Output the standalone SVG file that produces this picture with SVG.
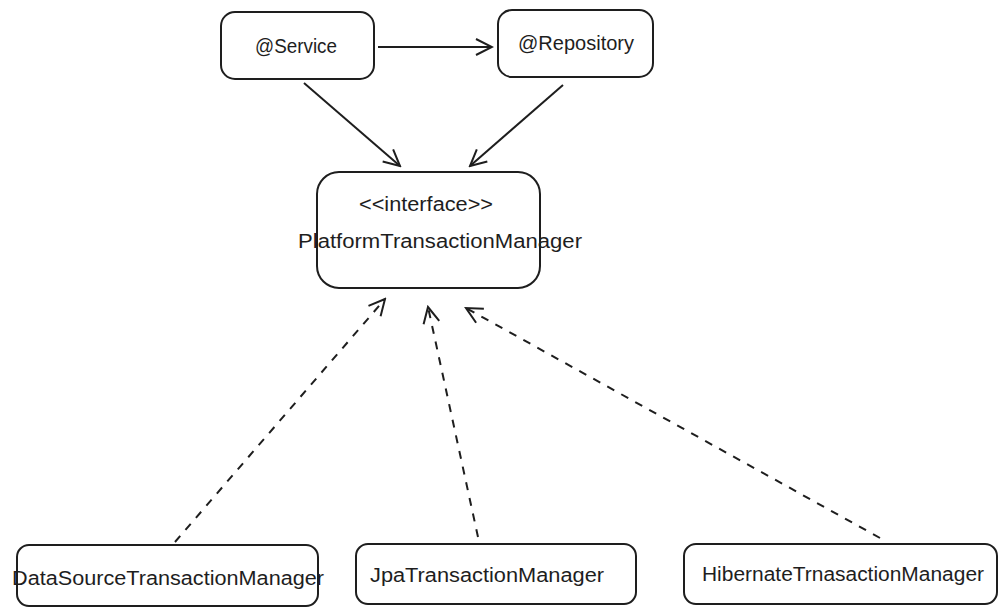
<svg xmlns="http://www.w3.org/2000/svg" width="1007" height="615" viewBox="0 0 1007 615">
<style>
.box{fill:#fff;stroke:#1e1e1e;stroke-width:2;}
.t{font-family:"Liberation Sans",Arial,sans-serif;font-size:20px;fill:#1e1e1e;text-anchor:middle;dominant-baseline:central;}
.c{fill:none;stroke:#1e1e1e;stroke-width:2;}
.d{stroke-dasharray:8 8;}
</style>
<defs>
<marker id="ah" viewBox="0 0 20 20" refX="18" refY="10" markerWidth="20" markerHeight="20" markerUnits="userSpaceOnUse" orient="auto">
<path d="M2,2 L18,10 L2,18" fill="none" stroke="#1e1e1e" stroke-width="2"/>
</marker>
</defs>
<rect width="1007" height="615" fill="#fff"/>
<g id="connectors">
<line class="c" x1="378" y1="47" x2="492" y2="47" marker-end="url(#ah)"/>
<line class="c" x1="304" y1="83" x2="400" y2="166" marker-end="url(#ah)"/>
<line class="c" x1="563" y1="85" x2="470" y2="166" marker-end="url(#ah)"/>
<line class="c d" x1="175" y1="542" x2="385" y2="299" marker-end="url(#ah)"/>
<line class="c d" x1="478" y1="537" x2="428" y2="307" marker-end="url(#ah)"/>
<line class="c d" x1="880" y1="538" x2="466" y2="308" marker-end="url(#ah)"/>
</g>
<g id="service">
<rect class="box" x="221" y="12" width="153" height="67" rx="14"/>
<text class="t" x="296" y="46" textLength="82" lengthAdjust="spacingAndGlyphs">@Service</text>
</g>
<g id="repository">
<rect class="box" x="498" y="10" width="155" height="67" rx="14"/>
<text class="t" x="576" y="43" textLength="116" lengthAdjust="spacingAndGlyphs">@Repository</text>
</g>
<g id="ptm">
<rect class="box" x="317" y="172" width="223" height="116" rx="22"/>
<text class="t" x="426" y="204" textLength="134" lengthAdjust="spacingAndGlyphs">&lt;&lt;interface&gt;&gt;</text>
<text class="t" x="440" y="241" textLength="284" lengthAdjust="spacingAndGlyphs">PlatformTransactionManager</text>
</g>
<g id="datasource">
<rect class="box" x="17" y="545" width="301" height="61" rx="12"/>
<text class="t" x="168" y="578" textLength="312" lengthAdjust="spacingAndGlyphs">DataSourceTransactionManager</text>
</g>
<g id="jpa">
<rect class="box" x="356" y="544" width="280" height="60" rx="12"/>
<text class="t" x="487" y="575" textLength="234" lengthAdjust="spacingAndGlyphs">JpaTransactionManager</text>
</g>
<g id="hibernate">
<rect class="box" x="684" y="544" width="313" height="60" rx="12"/>
<text class="t" x="843" y="574" textLength="282" lengthAdjust="spacingAndGlyphs">HibernateTrnasactionManager</text>
</g>
</svg>
